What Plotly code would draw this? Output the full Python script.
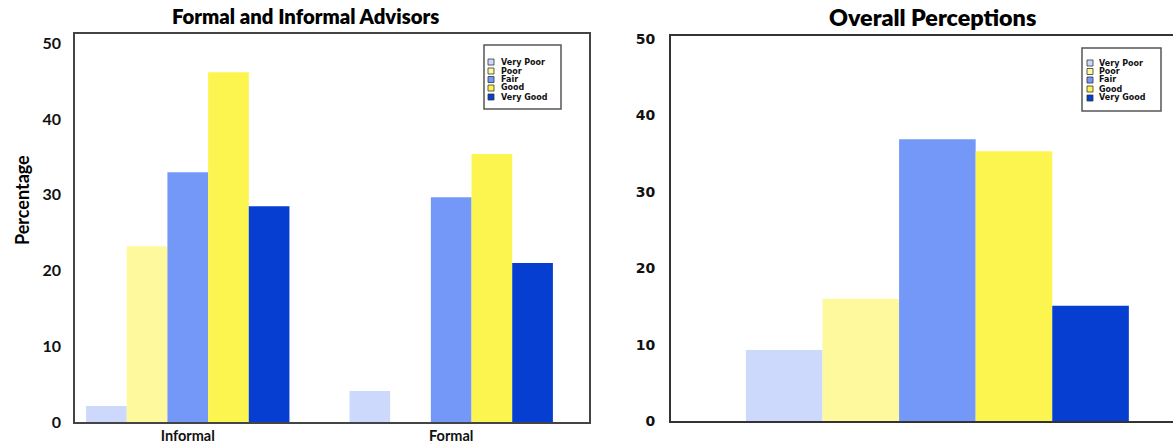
import plotly.graph_objects as go

W, H = 1173, 444

# ---------------- data ----------------
levels = ["Very Poor", "Poor", "Fair", "Good", "Very Good"]
colors = ["#CCD9FC", "#FEF99C", "#7398F8", "#FDF54F", "#053ED1"]

groups = ["Informal", "Formal"]
informal_vals = [2.1, 23.2, 33.0, 46.2, 28.5]
formal_vals = [4.1, 0.0, 29.7, 35.4, 21.0]

overall_cat = ["Overall"]
overall_vals = [9.3, 16.0, 36.9, 35.3, 15.1]

y_ticks = [0, 10, 20, 30, 40, 50]

left_title = "Formal and Informal Advisors"
right_title = "Overall Perceptions"
y_title = "Percentage"


def px(x):
    return x / W


def py(y):
    return 1 - y / H


fig = go.Figure()

for i, lvl in enumerate(levels):
    fig.add_trace(go.Bar(
        x=groups, y=[informal_vals[i], formal_vals[i]], name=lvl,
        marker=dict(color=colors[i], line=dict(width=0)),
        xaxis="x", yaxis="y", showlegend=False,
    ))
    fig.add_trace(go.Bar(
        x=overall_cat, y=[overall_vals[i]], name=lvl,
        marker=dict(color=colors[i], line=dict(width=0)),
        xaxis="x2", yaxis="y2", showlegend=False,
    ))

lt_font = dict(family="Lato", size=16, color="#111", weight=700)
rt_font = dict(family="DejaVu Sans", size=14, color="#111", weight=700)

fig.update_layout(
    width=W, height=H,
    margin=dict(l=0, r=0, t=0, b=0, autoexpand=False),
    paper_bgcolor="white", plot_bgcolor="white",
    barmode="group", bargap=0.228, bargroupgap=0,
    xaxis=dict(
        domain=[px(75), px(589)], anchor="y", automargin=False,
        type="category", categoryorder="array", categoryarray=groups,
        range=[-0.428, 1.523],
        showline=True, linecolor="#444", linewidth=1.5, mirror=True,
        showgrid=False, ticks="", ticklabelstandoff=0,
        tickfont=dict(family="Lato", size=14.5, color="#111", weight=700),
    ),
    yaxis=dict(
        domain=[py(422), py(34)], anchor="x", automargin=False,
        range=[0, 51.25], tickvals=y_ticks,
        showline=True, linecolor="#444", linewidth=1.5, mirror=True,
        showgrid=False, zeroline=False, ticks="", ticklabelstandoff=9,
        tickfont=lt_font,
    ),
    xaxis2=dict(
        domain=[px(671), 1.0], anchor="y2", automargin=False,
        type="category", range=[-0.537, 0.475],
        showline=True, linecolor="#333", linewidth=1.5, mirror=True,
        showgrid=False, ticks="", showticklabels=False,
    ),
    yaxis2=dict(
        domain=[py(421), py(36)], anchor="x2", automargin=False,
        range=[0, 50.4], tickvals=y_ticks,
        showline=True, linecolor="#333", linewidth=2, mirror=False,
        showgrid=False, zeroline=False, ticks="", ticklabelstandoff=11,
        tickfont=rt_font,
    ),
)

annotations = [
    dict(text=left_title, x=px(305), y=py(16), xref="paper", yref="paper",
         xanchor="center", yanchor="middle", showarrow=False,
         font=dict(family="Lato", size=20.3, color="#000", weight=800)),
    dict(text=right_title, x=px(932), y=py(17), xref="paper", yref="paper",
         xanchor="center", yanchor="middle", showarrow=False,
         font=dict(family="Lato", size=23.3, color="#000", weight=800)),
    dict(text=y_title, x=px(22), y=py(200), xref="paper", yref="paper",
         xanchor="center", yanchor="middle", showarrow=False, textangle=-90,
         font=dict(family="Lato", size=18, color="#000", weight=700)),
]

shapes = []

# manual compact legends (one per panel)
legend_boxes = [
    dict(x0=484, x1=561, y0=45, y1=109, mx=488, tx=499, ys=[62, 71, 79.5, 88, 97]),
    dict(x0=1082, x1=1161, y0=48, y1=111, mx=1087, tx=1097, ys=[63, 71.5, 80, 89, 98]),
]
for lb in legend_boxes:
    shapes.append(dict(type="rect", xref="paper", yref="paper",
                       x0=px(lb["x0"]), x1=px(lb["x1"]),
                       y0=py(lb["y1"]), y1=py(lb["y0"]),
                       line=dict(color="#555", width=1.5), fillcolor="white"))
    for i, lvl in enumerate(levels):
        yc = lb["ys"][i]
        shapes.append(dict(type="rect", xref="paper", yref="paper",
                           x0=px(lb["mx"]), x1=px(lb["mx"] + 6),
                           y0=py(yc + 3), y1=py(yc - 3),
                           line=dict(color="#333", width=0.8), fillcolor=colors[i]))
        annotations.append(dict(text=lvl, x=px(lb["tx"]), y=py(yc),
                                xref="paper", yref="paper",
                                xanchor="left", yanchor="middle", showarrow=False,
                                font=dict(family="DejaVu Sans", size=8,
                                          color="#111", weight=700)))

fig.update_layout(annotations=annotations, shapes=shapes)

fig.write_html("out.html", config={"displayModeBar": False})

# remove the default page margin so the figure sits at the window origin
with open("out.html", "r", encoding="utf-8") as f:
    html = f.read()
html = html.replace("<head>", "<head><style>html,body{margin:0;padding:0;overflow:hidden;}</style>", 1)
with open("out.html", "w", encoding="utf-8") as f:
    f.write(html)
